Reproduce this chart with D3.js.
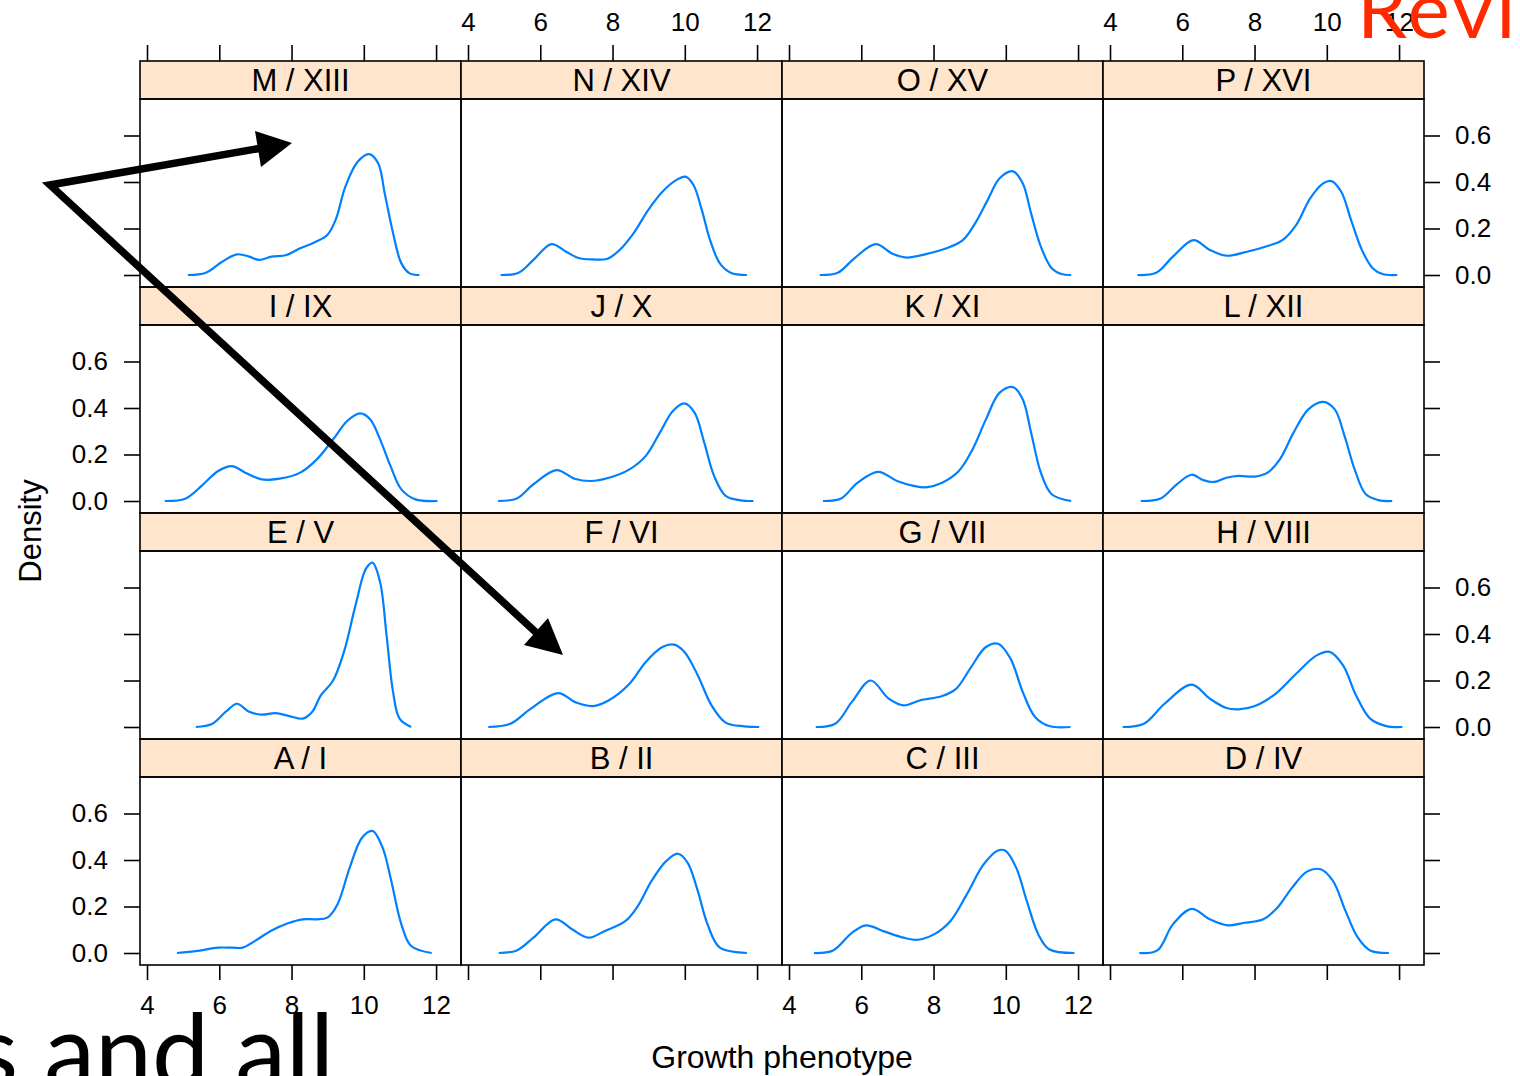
<!DOCTYPE html>
<html>
<head>
<meta charset="utf-8">
<script src="https://cdn.jsdelivr.net/npm/d3@7"></script>
<style>
  html, body { margin: 0; padding: 0; background: #ffffff; }
  svg { display: block; }
</style>
</head>
<body>
<div id="chart"></div>
<script>
// ---------------- DATA ----------------
const panelLabels = [
  "A / I", "B / II", "C / III", "D / IV",
  "E / V", "F / VI", "G / VII", "H / VIII",
  "I / IX", "J / X", "K / XI", "L / XII",
  "M / XIII", "N / XIV", "O / XV", "P / XVI"
];
const xTicks = [4, 6, 8, 10, 12];
const yTicks = [0.0, 0.2, 0.4, 0.6];
const xLabel = "Growth phenotype";
const yLabel = "Density";

// density curves: [growth phenotype, density]
const curveA = [[4.83,0],[5.40,0.009],[5.97,0.023],[6.35,0.023],[6.65,0.023],[6.99,0.052],[7.45,0.097],[7.90,0.128],[8.31,0.145],[8.70,0.145],[8.99,0.152],[9.27,0.209],[9.61,0.367],[9.95,0.496],[10.24,0.525],[10.52,0.453],[10.74,0.324],[11.04,0.123],[11.31,0.03],[11.88,0]];
const curveB = [[4.85,0],[5.35,0.011],[5.81,0.066],[6.42,0.145],[6.88,0.102],[7.33,0.066],[7.79,0.095],[8.36,0.138],[8.70,0.202],[9.08,0.31],[9.49,0.396],[9.81,0.427],[10.08,0.388],[10.36,0.266],[10.63,0.123],[10.97,0.023],[11.72,0]];
const curveC = [[4.69,0],[5.22,0.011],[5.74,0.087],[6.13,0.119],[6.65,0.092],[7.17,0.066],[7.56,0.057],[8.01,0.08],[8.47,0.138],[8.92,0.252],[9.38,0.38],[9.77,0.44],[9.99,0.44],[10.29,0.366],[10.58,0.224],[10.90,0.08],[11.20,0.016],[11.90,0]];
const curveD = [[4.81,0],[5.31,0.011],[5.74,0.123],[6.26,0.19],[6.76,0.145],[7.26,0.119],[7.72,0.13],[8.24,0.145],[8.63,0.195],[9.04,0.281],[9.45,0.35],[9.83,0.36],[10.17,0.31],[10.52,0.18],[10.86,0.066],[11.20,0.011],[11.72,0]];
const curveE = [[5.35,0],[5.81,0.014],[6.19,0.067],[6.49,0.10],[6.81,0.067],[7.17,0.053],[7.56,0.06],[7.94,0.047],[8.31,0.036],[8.58,0.067],[8.81,0.136],[9.15,0.20],[9.45,0.323],[9.77,0.523],[10.06,0.681],[10.24,0.707],[10.45,0.624],[10.63,0.394],[10.81,0.15],[10.99,0.036],[11.31,0]];
const curveF = [[4.56,0],[5.17,0.014],[5.74,0.079],[6.49,0.146],[6.99,0.105],[7.45,0.09],[7.90,0.115],[8.47,0.186],[8.92,0.28],[9.38,0.344],[9.70,0.354],[9.99,0.323],[10.36,0.222],[10.74,0.093],[11.13,0.019],[11.65,0.003],[12.06,0]];
const curveG = [[4.74,0],[5.28,0.014],[5.74,0.108],[6.26,0.20],[6.76,0.122],[7.17,0.093],[7.63,0.115],[8.24,0.133],[8.63,0.165],[9.04,0.258],[9.45,0.344],[9.79,0.358],[10.13,0.294],[10.47,0.15],[10.81,0.043],[11.20,0.004],[11.79,0]];
const curveH = [[4.35,0],[4.94,0.014],[5.51,0.10],[6.26,0.182],[6.76,0.122],[7.22,0.082],[7.56,0.076],[8.01,0.09],[8.58,0.143],[9.15,0.229],[9.72,0.308],[10.08,0.323],[10.45,0.265],[10.81,0.136],[11.20,0.036],[11.65,0.004],[12.09,0]];
const curveI = [[4.49,0],[5.06,0.01],[5.51,0.065],[5.97,0.129],[6.35,0.15],[6.72,0.122],[7.17,0.093],[7.67,0.096],[8.24,0.122],[8.70,0.179],[9.15,0.265],[9.54,0.344],[9.90,0.377],[10.18,0.351],[10.45,0.265],[10.74,0.15],[11.04,0.05],[11.43,0.007],[12.04,0]];
const curveJ = [[4.83,0],[5.35,0.011],[5.81,0.072],[6.45,0.133],[6.95,0.096],[7.40,0.086],[7.90,0.10],[8.47,0.136],[8.92,0.194],[9.31,0.294],[9.67,0.387],[9.99,0.42],[10.27,0.38],[10.54,0.25],[10.81,0.108],[11.13,0.022],[11.54,0.003],[11.90,0]];
const curveK = [[4.94,0],[5.44,0.011],[5.90,0.079],[6.47,0.125],[6.99,0.086],[7.45,0.065],[7.79,0.059],[8.24,0.079],[8.70,0.129],[9.08,0.222],[9.45,0.351],[9.83,0.466],[10.20,0.49],[10.47,0.437],[10.70,0.294],[10.97,0.122],[11.27,0.029],[11.81,0]];
const curveL = [[4.85,0],[5.40,0.011],[5.85,0.072],[6.26,0.113],[6.58,0.09],[6.88,0.082],[7.22,0.10],[7.56,0.108],[8.01,0.105],[8.36,0.122],[8.70,0.179],[9.08,0.294],[9.49,0.394],[9.90,0.426],[10.22,0.394],[10.49,0.28],[10.77,0.136],[11.08,0.029],[11.43,0.004],[11.81,0]];
const curveM = [[5.13,0],[5.63,0.01],[6.08,0.057],[6.49,0.089],[6.83,0.079],[7.10,0.065],[7.45,0.079],[7.86,0.086],[8.24,0.115],[8.63,0.14],[8.99,0.172],[9.22,0.237],[9.49,0.38],[9.83,0.487],[10.15,0.52],[10.40,0.48],[10.58,0.35],[10.81,0.18],[11.04,0.05],[11.27,0.007],[11.54,0]];
const curveN = [[4.90,0],[5.40,0.01],[5.81,0.065],[6.31,0.133],[6.72,0.10],[7.06,0.073],[7.45,0.067],[7.86,0.07],[8.20,0.108],[8.58,0.179],[8.99,0.28],[9.38,0.358],[9.77,0.409],[10.02,0.423],[10.24,0.387],[10.47,0.28],[10.70,0.15],[10.97,0.05],[11.27,0.01],[11.72,0]];
const curveO = [[4.85,0],[5.35,0.01],[5.81,0.072],[6.40,0.133],[6.88,0.09],[7.26,0.075],[7.79,0.09],[8.36,0.115],[8.81,0.15],[9.15,0.222],[9.49,0.32],[9.83,0.416],[10.20,0.446],[10.47,0.394],[10.70,0.265],[10.97,0.122],[11.27,0.029],[11.54,0.004],[11.81,0]];
const curveP = [[4.76,0],[5.28,0.01],[5.74,0.079],[6.31,0.15],[6.76,0.108],[7.22,0.083],[7.79,0.10],[8.36,0.125],[8.77,0.15],[9.15,0.215],[9.54,0.33],[9.90,0.394],[10.13,0.404],[10.40,0.358],[10.67,0.237],[10.97,0.108],[11.27,0.029],[11.54,0.004],[11.95,0]];

const curves = [curveA, curveB, curveC, curveD, curveE, curveF, curveG, curveH,
                curveI, curveJ, curveK, curveL, curveM, curveN, curveO, curveP];

// slide overlay texts
const overlayTopRight = "Revi";
const overlayBottomLeft = "s and all";

// ---------------- LAYOUT ----------------
const W = 1520, H = 1076;
const gridLeft = 140, colW = 321, gridTop = 61, rowH = 226, stripH = 38;
const nCols = 4, nRows = 4;
const xDomain = [3.806, 12.69];
const yDomain = [-0.0516, 0.757];
const FONT = "'Liberation Sans', Arial, Helvetica, sans-serif";
const lineCol = "#0080ff";

const svg = d3.select("#chart").append("svg")
  .attr("width", W).attr("height", H)
  .attr("viewBox", `0 0 ${W} ${H}`)
  .style("font-family", FONT);

svg.append("rect").attr("width", W).attr("height", H).attr("fill", "#fff");

const lineGen = (xs, ys) => d3.line()
  .x(d => xs(d[0])).y(d => ys(d[1]))
  .curve(d3.curveCatmullRom.alpha(0.5));

const gridBottom = gridTop + nRows * rowH;
const gridRight = gridLeft + nCols * colW;

curves.forEach((data, i) => {
  const col = i % nCols;
  const row = nRows - 1 - Math.floor(i / nCols);
  const left = gridLeft + col * colW;
  const stripTop = gridTop + row * rowH;
  const pTop = stripTop + stripH;
  const pBottom = stripTop + rowH;

  const xs = d3.scaleLinear().domain(xDomain).range([left, left + colW]);
  const ys = d3.scaleLinear().domain(yDomain).range([pBottom, pTop]);

  const g = svg.append("g");
  // strip
  g.append("rect").attr("x", left).attr("y", stripTop)
    .attr("width", colW).attr("height", stripH)
    .attr("fill", "#ffe5cc").attr("stroke", "#000").attr("stroke-width", 1.6);
  g.append("text").attr("x", left + colW / 2).attr("y", stripTop + stripH / 2 + 11)
    .attr("text-anchor", "middle").attr("font-size", 31).attr("fill", "#000")
    .text(panelLabels[i]);

  // density curve
  g.append("path").datum(data)
    .attr("d", lineGen(xs, ys))
    .attr("fill", "none").attr("stroke", lineCol).attr("stroke-width", 2.2)
    .attr("stroke-linejoin", "round");

  // panel box
  g.append("rect").attr("x", left).attr("y", pTop)
    .attr("width", colW).attr("height", pBottom - pTop)
    .attr("fill", "none").attr("stroke", "#000").attr("stroke-width", 1.6);

  // axes
  const styleAxis = sel => {
    sel.select(".domain").remove();
    sel.selectAll(".tick line").attr("stroke", "#000").attr("stroke-width", 1.6);
    sel.selectAll(".tick text").attr("font-size", 26).attr("fill", "#000")
      .attr("font-family", FONT);
  };
  if (row === 0) {
    const ax = d3.axisTop(xs).tickValues(xTicks).tickSize(16).tickPadding(14).tickSizeOuter(0)
      .tickFormat(col % 2 === 1 ? d3.format("d") : () => "");
    svg.append("g").attr("transform", `translate(0,${gridTop})`).call(ax).call(styleAxis);
  }
  if (row === nRows - 1) {
    const ax = d3.axisBottom(xs).tickValues(xTicks).tickSize(15).tickPadding(16).tickSizeOuter(0)
      .tickFormat(col % 2 === 0 ? d3.format("d") : () => "");
    svg.append("g").attr("transform", `translate(0,${gridBottom})`).call(ax).call(styleAxis);
  }
  if (col === 0) {
    const ax = d3.axisLeft(ys).tickValues(yTicks).tickSize(16).tickPadding(16).tickSizeOuter(0)
      .tickFormat(row % 2 === 1 ? d3.format(".1f") : () => "");
    svg.append("g").attr("transform", `translate(${gridLeft},0)`).call(ax).call(styleAxis);
  }
  if (col === nCols - 1) {
    const ax = d3.axisRight(ys).tickValues(yTicks).tickSize(16).tickPadding(15).tickSizeOuter(0)
      .tickFormat(row % 2 === 0 ? d3.format(".1f") : () => "");
    svg.append("g").attr("transform", `translate(${gridRight},0)`).call(ax).call(styleAxis);
  }
});

// axis titles
svg.append("text").attr("x", (gridLeft + gridRight) / 2).attr("y", 1068)
  .attr("text-anchor", "middle").attr("font-size", 32).attr("fill", "#000")
  .text(xLabel);
svg.append("text").attr("transform", `translate(41,${(gridTop + gridBottom) / 2 + 18}) rotate(-90)`)
  .attr("text-anchor", "middle").attr("font-size", 31).attr("fill", "#000")
  .text(yLabel);

// ---------------- SLIDE OVERLAYS ----------------
const ov = svg.append("g");
// arrows from a shared vertex
ov.append("path")
  .attr("d", "M 262 148 L 50 185 L 541 637")
  .attr("fill", "none").attr("stroke", "#000").attr("stroke-width", 7.5)
  .attr("stroke-linejoin", "miter").attr("stroke-miterlimit", 10);
ov.append("path").attr("d", "M 292 143 L 255 131 L 261 167 Z").attr("fill", "#000");
ov.append("path").attr("d", "M 563 655 L 548 618 L 524 645 Z").attr("fill", "#000");

ov.append("text").attr("x", 1357).attr("y", 38)
  .attr("font-family", "Lato, 'Open Sans', sans-serif").attr("font-size", 80)
  .attr("letter-spacing", 3)
  .attr("fill", "#ff2a00").text(overlayTopRight);
ov.append("text").attr("x", 334).attr("y", 1088).attr("text-anchor", "end")
  .attr("font-family", "Lato, 'Open Sans', sans-serif").attr("font-size", 102)
  .attr("fill", "#000").text(overlayBottomLeft);
</script>
</body>
</html>
